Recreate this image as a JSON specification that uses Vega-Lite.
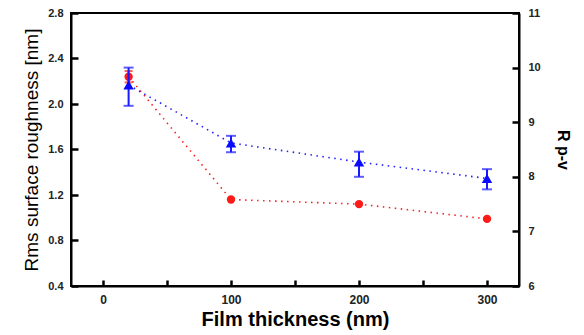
{
  "$schema": "https://vega.github.io/schema/vega-lite/v6.json",
  "width": 448,
  "height": 273,
  "autosize": {"type": "none"},
  "padding": {"left": 71, "top": 13, "right": 65, "bottom": 49},
  "background": "white",
  "config": {
    "view": {"stroke": "black", "strokeWidth": 2},
    "axis": {
      "grid": false,
      "domainColor": "black",
      "domainWidth": 2,
      "tickColor": "black",
      "tickWidth": 2.5,
      "labelFont": "Liberation Sans",
      "labelFontWeight": "bold",
      "labelFontSize": 11,
      "labelColor": "#222",
      "titleFont": "Liberation Sans",
      "titleColor": "black"
    }
  },
  "data": {
    "values": [
      {"t": 20, "rms": 2.24, "rms_lo": 2.19, "rms_hi": 2.29, "rpv": 9.68, "rpv_lo": 9.3, "rpv_hi": 10.0},
      {"t": 100, "rms": 1.16, "rms_lo": null, "rms_hi": null, "rpv": 8.62, "rpv_lo": 8.45, "rpv_hi": 8.75},
      {"t": 200, "rms": 1.12, "rms_lo": null, "rms_hi": null, "rpv": 8.27, "rpv_lo": 8.0, "rpv_hi": 8.46},
      {"t": 300, "rms": 0.99, "rms_lo": null, "rms_hi": null, "rpv": 7.97, "rpv_lo": 7.77, "rpv_hi": 8.14}
    ]
  },
  "encoding": {
    "x": {
      "field": "t",
      "type": "quantitative",
      "scale": {"domain": [-25, 325], "nice": false, "zero": false},
      "axis": {
        "title": "Film thickness (nm)",
        "titleFontSize": 20,
        "titleFontWeight": "bold",
        "titlePadding": 4,
        "values": [0, 50, 100, 150, 200, 250, 300],
        "labelExpr": "datum.value % 100 == 0 ? datum.label : ''",
        "tickSize": -6,
        "labelPadding": 14,
        "labelFontSize": 12
      }
    }
  },
  "layer": [
    {
      "layer": [
        {
          "mark": {"type": "line", "color": "#ff2020", "strokeDash": [1.5, 4.5], "strokeWidth": 1.6},
          "encoding": {
            "y": {
              "field": "rms",
              "type": "quantitative",
              "scale": {"domain": [0.4, 2.8], "nice": false, "zero": false},
              "title": "Rms surface roughness [nm]",
              "axis": {
                "orient": "left",
                "titleFontSize": 19,
                "titleFontWeight": "normal",
                "titlePadding": 6,
                "values": [0.4, 0.6, 0.8, 1.0, 1.2, 1.4, 1.6, 1.8, 2.0, 2.2, 2.4, 2.6, 2.8],
                "labelExpr": "round(datum.value * 10) % 4 == 0 ? format(datum.value, '.1f') : ''",
                "tickSize": -7,
                "labelPadding": 15
              }
            }
          }
        },
        {
          "mark": {"type": "errorbar", "color": "#ff2020", "ticks": {"size": 8}, "thickness": 2},
          "encoding": {
            "y": {"field": "rms_lo", "type": "quantitative", "title": "Rms surface roughness [nm]"},
            "y2": {"field": "rms_hi"}
          }
        },
        {
          "mark": {"type": "point", "shape": "circle", "filled": true, "color": "#ff1a1a", "opacity": 1, "size": 70},
          "encoding": {
            "y": {"field": "rms", "type": "quantitative", "title": "Rms surface roughness [nm]"}
          }
        }
      ]
    },
    {
      "layer": [
        {
          "mark": {"type": "line", "color": "#2020ff", "strokeDash": [1.5, 4.5], "strokeWidth": 1.6},
          "encoding": {
            "y": {
              "field": "rpv",
              "type": "quantitative",
              "scale": {"domain": [6, 11], "nice": false, "zero": false},
              "title": "R p-v",
              "axis": {
                "orient": "right",
                "titleFontSize": 16,
                "titleFontWeight": "bold",
                "titlePadding": 14,
                "values": [6, 6.5, 7, 7.5, 8, 8.5, 9, 9.5, 10, 10.5, 11],
                "labelExpr": "datum.value % 1 == 0 ? datum.label : ''",
                "tickSize": -7,
                "labelPadding": 16
              }
            }
          }
        },
        {
          "mark": {"type": "errorbar", "color": "#1a1aff", "ticks": {"size": 10}, "thickness": 2},
          "encoding": {
            "y": {"field": "rpv_lo", "type": "quantitative", "title": "R p-v"},
            "y2": {"field": "rpv_hi"}
          }
        },
        {
          "mark": {"type": "point", "shape": "triangle-up", "filled": true, "color": "#0a0aff", "opacity": 1, "size": 110},
          "encoding": {
            "y": {"field": "rpv", "type": "quantitative", "title": "R p-v"}
          }
        }
      ]
    }
  ],
  "resolve": {"scale": {"y": "independent"}}
}
